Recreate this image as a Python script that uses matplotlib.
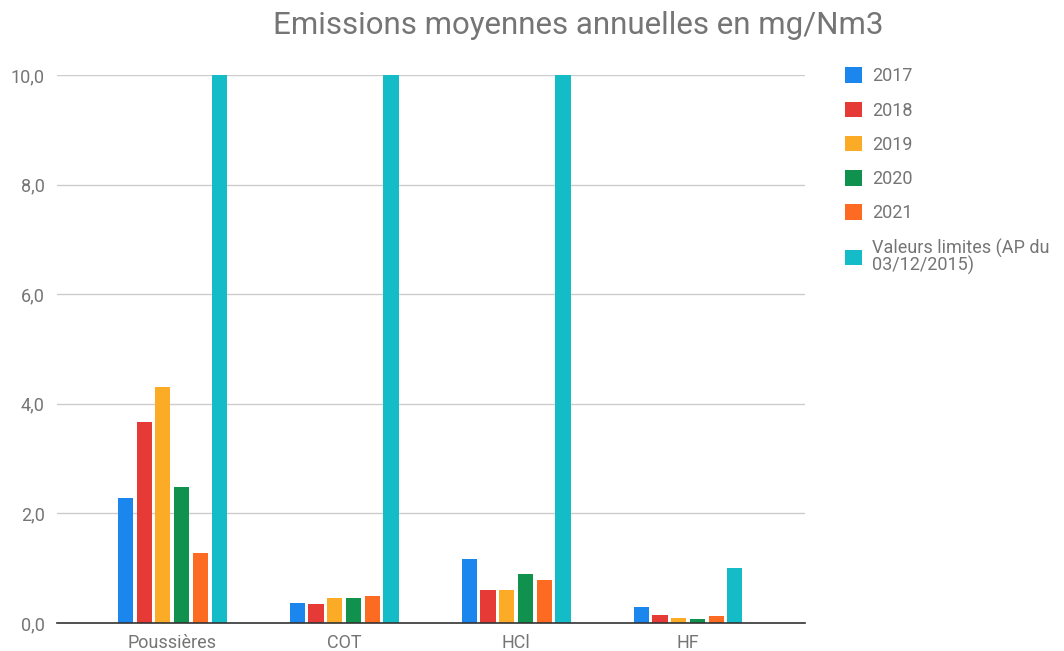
import numpy as np
import matplotlib.pyplot as plt

plt.rcParams["font.family"] = ["Roboto", "DejaVu Sans"]

polluants = ["Poussières", "COT", "HCl", "HF"]
series = ["2017", "2018", "2019", "2020", "2021", "Valeurs limites (AP du\n03/12/2015)"]
v2017 = [2.28, 0.37, 1.17, 0.29]
v2018 = [3.67, 0.35, 0.60, 0.15]
v2019 = [4.31, 0.46, 0.60, 0.10]
v2020 = [2.48, 0.46, 0.89, 0.07]
v2021 = [1.28, 0.49, 0.78, 0.12]
limites = [10.0, 10.0, 10.0, 1.0]

colors = ["#1a86ee", "#e53a35", "#fbab25", "#10924e", "#fd6a22", "#14bcc7"]
grey = "#757575"

fig = plt.figure(figsize=(10.64, 6.51), dpi=100)
ax = fig.add_axes([57 / 1064, 1 - 623 / 651, 748 / 1064, 548 / 651])

x = np.arange(len(polluants))
pitch = 0.109
width = 0.088
for i, (vals, col, lab) in enumerate(
    zip([v2017, v2018, v2019, v2020, v2021, limites], colors, series)
):
    ax.bar(x + (i - 2.5) * pitch, vals, width, color=col, label=lab, zorder=3)

ax.set_xlim(-0.67, 3.68)
ax.set_ylim(0, 10)
ax.set_yticks(np.arange(0, 10.1, 2))
ax.set_yticklabels([f"{t:.1f}".replace(".", ",") for t in np.arange(0, 10.1, 2)])
ax.set_xticks(x)
ax.set_xticklabels(polluants)
ax.tick_params(axis="both", length=0, colors=grey, labelsize=13)
ax.tick_params(axis="y", pad=9)
ax.tick_params(axis="x", pad=8)
ax.yaxis.grid(True, color="#cccccc", lw=1, zorder=0)
for s in ["top", "right", "left"]:
    ax.spines[s].set_visible(False)
ax.spines["bottom"].set_color("#333333")
ax.spines["bottom"].set_linewidth(1.2)
ax.spines["bottom"].set_zorder(4)

fig.text(578 / 1064, 1 - 25 / 651, "Emissions moyennes annuelles en mg/Nm3",
         ha="center", va="center", fontsize=22.5, color=grey)

leg = fig.legend(loc="upper left", bbox_to_anchor=(829 / 1064, 1 - 51 / 651),
                 frameon=False, fontsize=13, labelcolor=grey, handlelength=0.95,
                 handleheight=0.95, handletextpad=0.55, labelspacing=0.9)
# tighter line spacing for the two-line label
leg.get_texts()[-1].set_linespacing(0.85)

fig.savefig("out.png", dpi=100, facecolor="white")
